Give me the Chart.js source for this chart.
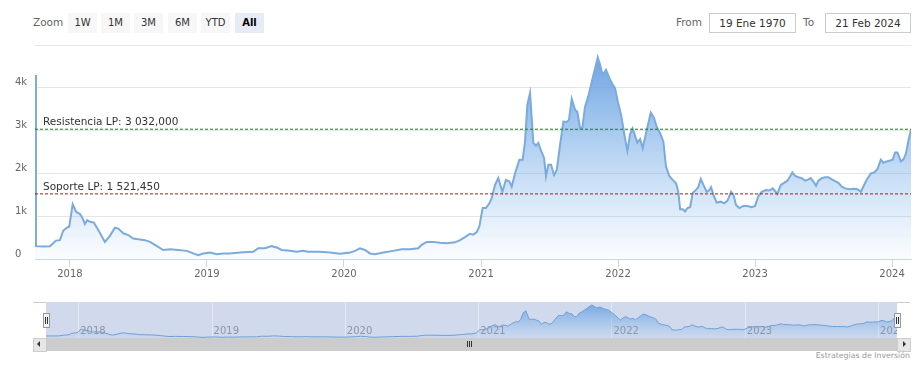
<!DOCTYPE html>
<html>
<head>
<meta charset="utf-8">
<script src="https://cdn.jsdelivr.net/npm/chart.js@4/dist/chart.umd.min.js"></script>
<style>
  body { margin: 0; background: #fff; font-family: "DejaVu Sans", sans-serif; }
  #page { position: relative; width: 923px; height: 370px; overflow: hidden; }
  .abs { position: absolute; }
  .lbl { font-size: 10.5px; color: #666; line-height: 20px; }
  .btn { top: 13px; width: 29px; height: 20px; background: #f7f7f7; color: #333; font-size: 10px;
         text-align: center; line-height: 20px; }
  .btn.sel { background: #e6ebf5; color: #000; font-weight: bold; }
  .inp { top: 13px; height: 18px; border: 1px solid #ccc; font-size: 10.5px; color: #333;
         text-align: center; line-height: 18px; }
  .handle { top: 313px; width: 5px; height: 13px; background: #f2f2f2; border: 1px solid #999; }
  .handle::before, .handle::after { content: ""; position: absolute; top: 3px; width: 1px; height: 7px; background: #333; }
  .handle::before { left: 1px; } .handle::after { left: 3px; }
</style>
</head>
<body>
<div id="page">
  <div class="abs lbl" style="left:33px;top:12px;">Zoom</div>
  <div class="abs btn" style="left:68px;">1W</div>
  <div class="abs btn" style="left:101px;">1M</div>
  <div class="abs btn" style="left:134px;">3M</div>
  <div class="abs btn" style="left:168px;">6M</div>
  <div class="abs btn" style="left:201px;">YTD</div>
  <div class="abs btn sel" style="left:235px;">All</div>
  <div class="abs lbl" style="left:676px;top:12px;">From</div>
  <div class="abs inp" style="left:709px;width:85px;">19 Ene 1970</div>
  <div class="abs lbl" style="left:803px;top:12px;">To</div>
  <div class="abs inp" style="left:825px;width:84px;">21 Feb 2024</div>

  <div class="abs" style="left:0;top:0;width:923px;height:290px;"><canvas id="main"></canvas></div>

  <div class="abs" style="left:33px;top:302px;width:877px;height:1px;background:#ccc;"></div>
  <div class="abs" style="left:46px;top:302px;width:851px;height:36px;background:#d1daed;"><canvas id="nav"></canvas></div>
  <div class="abs handle" style="left:43px;"></div>
  <div class="abs handle" style="left:894px;"></div>

  <div class="abs" style="left:33px;top:338px;width:877px;height:13px;background:#f2f2f2;"></div>
  <div class="abs" style="left:46px;top:338px;width:851px;height:13px;background:#cccccc;"></div>
  <div class="abs" style="left:467px;top:341px;width:1px;height:6px;background:#333;"></div>
  <div class="abs" style="left:469px;top:341px;width:1px;height:6px;background:#333;"></div>
  <div class="abs" style="left:471px;top:341px;width:1px;height:6px;background:#333;"></div>
  <div class="abs" style="left:33px;top:338px;width:12px;height:12px;background:#e6e6e6;border:1px solid #ccc;"></div>
  <div class="abs" style="left:37px;top:341px;width:0;height:0;border-top:3px solid transparent;border-bottom:3px solid transparent;border-right:3px solid #333;"></div>
  <div class="abs" style="left:897px;top:338px;width:12px;height:12px;background:#e6e6e6;border:1px solid #ccc;"></div>
  <div class="abs" style="left:903px;top:341px;width:0;height:0;border-top:3px solid transparent;border-bottom:3px solid transparent;border-left:3px solid #333;"></div>

  <div class="abs" style="right:13px;top:351px;font-size:7.8px;color:#999;">Estrategias de Inversión</div>
</div>

<script>
const dates = [
  2017.745, 2017.752, 2017.805, 2017.854, 2017.898, 2017.927, 2017.951, 2017.976, 2017.995,
  2018.020, 2018.044, 2018.073, 2018.093, 2018.109, 2018.126, 2018.146, 2018.175, 2018.207,
  2018.255, 2018.292, 2018.328, 2018.353, 2018.389, 2018.426, 2018.462, 2018.499, 2018.547,
  2018.584, 2018.620, 2018.681, 2018.730, 2018.791, 2018.852, 2018.900, 2018.936, 2018.973,
  2019.022, 2019.071, 2019.119, 2019.163, 2019.265, 2019.338, 2019.374, 2019.423, 2019.472,
  2019.509, 2019.545, 2019.606, 2019.655, 2019.703, 2019.739, 2019.825, 2019.898, 2019.971,
  2020.044, 2020.080, 2020.117, 2020.153, 2020.190, 2020.226, 2020.287, 2020.360, 2020.421,
  2020.482, 2020.542, 2020.567, 2020.604, 2020.652, 2020.701, 2020.750, 2020.810, 2020.847,
  2020.883, 2020.920, 2020.944, 2020.969, 2020.988, 2021.012, 2021.036, 2021.061, 2021.078,
  2021.102, 2021.126, 2021.156, 2021.182, 2021.207, 2021.224, 2021.248, 2021.280, 2021.304,
  2021.321, 2021.338, 2021.358, 2021.370, 2021.382, 2021.401, 2021.418, 2021.438, 2021.460,
  2021.474, 2021.491, 2021.511, 2021.533, 2021.553, 2021.577, 2021.601, 2021.626, 2021.642,
  2021.662, 2021.686, 2021.703, 2021.723, 2021.739, 2021.759, 2021.783, 2021.815, 2021.852,
  2021.869, 2021.888, 2021.912, 2021.942, 2021.966, 2021.978, 2021.998, 2022.022, 2022.051,
  2022.068, 2022.088, 2022.106, 2022.126, 2022.141, 2022.161, 2022.180, 2022.204, 2022.221,
  2022.239, 2022.263, 2022.282, 2022.307, 2022.331, 2022.350, 2022.374, 2022.399, 2022.423,
  2022.440, 2022.453, 2022.472, 2022.489, 2022.506, 2022.526, 2022.545, 2022.567, 2022.586,
  2022.604, 2022.623, 2022.647, 2022.664, 2022.679, 2022.696, 2022.720, 2022.750, 2022.774,
  2022.798, 2022.825, 2022.842, 2022.861, 2022.885, 2022.915, 2022.944, 2022.976, 2023.000,
  2023.024, 2023.049, 2023.080, 2023.104, 2023.129, 2023.163, 2023.188, 2023.212, 2023.236,
  2023.255, 2023.272, 2023.292, 2023.316, 2023.341, 2023.365, 2023.389, 2023.406, 2023.426,
  2023.445, 2023.462, 2023.487, 2023.511, 2023.535, 2023.560, 2023.584, 2023.608, 2023.633,
  2023.657, 2023.693, 2023.723, 2023.747, 2023.772, 2023.796, 2023.815, 2023.845, 2023.869,
  2023.893, 2023.918, 2023.937, 2023.961, 2023.985, 2024.004, 2024.022, 2024.039, 2024.064,
  2024.083, 2024.102, 2024.120, 2024.138
];
const prices = [
  4300, 300, 290, 300, 430, 440, 660, 730, 760,
  1280, 1110, 1050, 950, 820, 910, 870, 850, 680,
  400, 540, 730, 710, 600, 560, 480, 460, 440,
  400, 330, 210, 230, 210, 190, 130, 90, 130,
  150, 110, 130, 130, 160, 170, 250, 250, 300,
  270, 210, 190, 170, 190, 170, 170, 150, 120,
  150, 190, 250, 210, 130, 110, 150, 190, 230,
  230, 250, 330, 400, 400, 380, 370, 390, 440,
  510, 590, 570, 630, 760, 1190, 1190, 1300, 1420,
  1730, 1890, 1570, 1850, 1810, 1690, 2000, 2320, 2320,
  2740, 3600, 3880, 3290, 2710, 2650, 2710, 2530, 2360,
  1930, 2200, 2200, 1960, 2080, 2670, 3210, 3200, 3250,
  3740, 3490, 3440, 3060, 3060, 3560, 3800, 4230, 4710,
  4540, 4300, 4420, 4190, 4050, 3990, 3680, 3370, 2820,
  2530, 2920, 3050, 2860, 2720, 2800, 2590, 2940, 3170,
  3420, 3290, 3090, 2940, 2740, 2160, 1940, 1850, 1770,
  1570, 1160, 1160, 1110, 1190, 1210, 1540, 1610, 1680,
  1870, 1730, 1570, 1600, 1680, 1500, 1320, 1340, 1300,
  1360, 1570, 1500, 1260, 1190, 1240, 1240, 1210, 1240,
  1470, 1570, 1610, 1600, 1650, 1520, 1730, 1780, 1830,
  1930, 2020, 1940, 1910, 1890, 1830, 1860, 1890, 1810,
  1710, 1830, 1890, 1910, 1910, 1860, 1820, 1780, 1690,
  1650, 1630, 1640, 1630, 1570, 1730, 1850, 2000, 2020,
  2100, 2320, 2250, 2280, 2300, 2320, 2490, 2490, 2280,
  2330, 2470, 2780, 3020
];
const years = [2018, 2019, 2020, 2021, 2022, 2023, 2024];
const yTicks = [0, 1000, 2000, 3000, 4000, 5000];
const yTickLabels = ["0", "1k", "2k", "3k", "4k", ""];
const levelValues = [3032, 1521.45];
const levelLabels = ["Resistencia LP: 3 032,000", "Soporte LP: 1 521,450"];
const levelColors = ["#1f7a1f", "#a01c1c"];

Chart.defaults.font.family = "DejaVu Sans";
Chart.defaults.animation = false;

const points = dates.map((d, i) => ({ x: d, y: prices[i] }));
const xMin = dates[0], xMax = dates[dates.length - 1];

function areaFill(top, bottom) {
  return function (c) {
    const a = c.chart.chartArea;
    if (!a) return "rgba(124,181,236,0.3)";
    const g = c.chart.ctx.createLinearGradient(0, a.top, 0, a.bottom);
    g.addColorStop(0, top);
    g.addColorStop(1, bottom);
    return g;
  };
}

const levelDatasets = levelValues.map((v, i) => ({
  data: [{ x: xMin, y: v }, { x: xMax, y: v }],
  borderColor: levelColors[i],
  borderWidth: 1,
  borderDash: [3, 2],
  pointRadius: 0,
  fill: false
}));

const levelText = {
  id: "levelText",
  afterDatasetsDraw(chart) {
    const ctx = chart.ctx, y = chart.scales.y;
    ctx.save();
    ctx.font = "10.5px DejaVu Sans";
    ctx.fillStyle = "#333";
    ctx.textAlign = "left";
    levelValues.forEach((v, i) => {
      ctx.fillText(levelLabels[i], chart.chartArea.left + 8, y.getPixelForValue(v) - 4);
    });
    ctx.restore();
  }
};

new Chart(document.getElementById("main"), {
  type: "line",
  data: {
    datasets: levelDatasets.concat([{
      data: points,
      borderColor: "#7aabdc",
      borderWidth: 2,
      pointRadius: 0,
      tension: 0,
      fill: "origin",
      backgroundColor: areaFill("rgba(92,152,222,0.95)", "rgba(124,181,236,0.03)")
    }])
  },
  options: {
    responsive: true,
    maintainAspectRatio: false,
    layout: { padding: { left: 15, right: 12, top: 45, bottom: 0 } },
    plugins: { legend: { display: false }, tooltip: { enabled: false } },
    events: [],
    scales: {
      x: {
        type: "linear",
        min: xMin,
        max: xMax,
        afterBuildTicks: s => { s.ticks = years.map(v => ({ value: v })); },
        afterFit: s => { s.height = 31; },
        grid: { drawOnChartArea: false, tickLength: 8, color: "#ccd6eb" },
        border: { color: "#ccd6eb", width: 1 },
        ticks: { callback: v => String(v), color: "#666", font: { size: 10 }, padding: 1, maxRotation: 0 }
      },
      y: {
        min: 0,
        max: 5000,
        afterBuildTicks: s => { s.ticks = yTicks.map(v => ({ value: v })); },
        afterFit: s => { s.width = 20; },
        grid: { color: "#e6e6e6", drawTicks: false },
        border: { display: false },
        ticks: {
          crossAlign: "far",
          callback: (v, i) => [yTickLabels[i], ""],
          color: "#666",
          font: { size: 10, lineHeight: 1 }
        }
      }
    }
  },
  plugins: [levelText]
});

const navGrid = {
  id: "navGrid",
  beforeDatasetsDraw(chart) {
    const ctx = chart.ctx, x = chart.scales.x, a = chart.chartArea;
    ctx.save();
    ctx.strokeStyle = "#e3e8f1";
    ctx.lineWidth = 1;
    years.forEach(v => {
      const px = Math.round(x.getPixelForValue(v)) + 0.5;
      ctx.beginPath(); ctx.moveTo(px, a.top); ctx.lineTo(px, a.bottom); ctx.stroke();
    });
    ctx.restore();
  },
  afterDatasetsDraw(chart) {
    const ctx = chart.ctx, x = chart.scales.x;
    ctx.save();
    ctx.font = "10px DejaVu Sans";
    ctx.fillStyle = "#8d96a6";
    ctx.textAlign = "left";
    ctx.textBaseline = "middle";
    years.forEach(v => { ctx.fillText(String(v), x.getPixelForValue(v) + 2, 29); });
    ctx.restore();
  }
};

new Chart(document.getElementById("nav"), {
  type: "line",
  data: {
    datasets: [{
      data: points.slice(1),
      borderColor: "#6f9fd6",
      borderWidth: 1,
      pointRadius: 0,
      tension: 0,
      fill: "origin",
      backgroundColor: areaFill("rgba(92,152,222,0.85)", "rgba(124,181,236,0.05)")
    }]
  },
  options: {
    responsive: true,
    maintainAspectRatio: false,
    layout: { padding: 0 },
    plugins: { legend: { display: false }, tooltip: { enabled: false } },
    events: [],
    scales: {
      x: { type: "linear", display: false, min: 2017.758, max: 2024.142 },
      y: { display: false, min: 0, max: 5140 }
    }
  },
  plugins: [navGrid]
});
</script>
</body>
</html>
